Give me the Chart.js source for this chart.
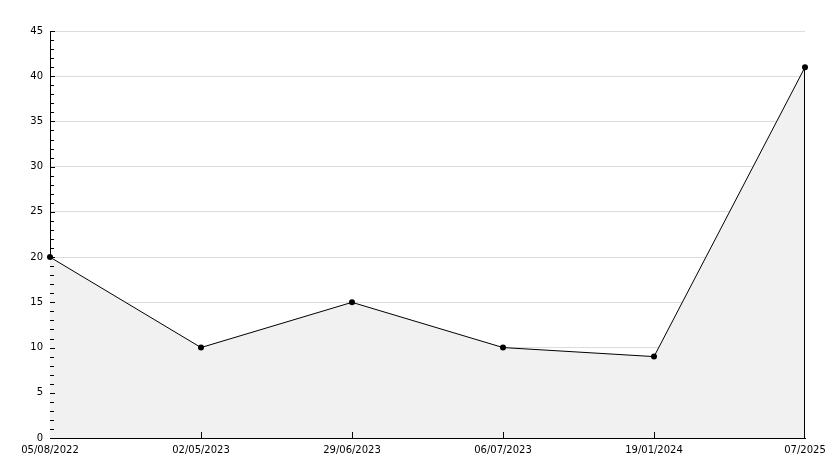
<!DOCTYPE html>
<html>
<head>
<meta charset="utf-8">
<script src="https://cdn.jsdelivr.net/npm/chart.js@4"></script>
<style>
  html, body { margin: 0; padding: 0; background: #fff; }
  #wrap { width: 834px; height: 468px; }
</style>
</head>
<body>
<div id="wrap"><canvas id="lineChart"></canvas></div>
<script>
// data
const dates = ['05/08/2022', '02/05/2023', '29/06/2023', '06/07/2023', '19/01/2024', '07/2025'];
const counts = [20, 10, 15, 10, 9, 41];
const yTicks = [0, 5, 10, 15, 20, 25, 30, 35, 40, 45];

// small inward tick marks + closing edge of the filled area
const tickMarks = {
  id: 'tickMarks',
  afterDatasetsDraw(chart) {
    const ctx = chart.ctx;
    const x = chart.scales.x, y = chart.scales.y;
    const area = chart.chartArea;
    ctx.save();
    ctx.strokeStyle = '#000';
    ctx.lineWidth = 1;
    ctx.beginPath();
    for (let v = 0; v <= 45; v++) {
      const py = Math.round(y.getPixelForValue(v)) + 0.5;
      const len = v % 5 === 0 ? 5 : 4;
      ctx.moveTo(area.left, py);
      ctx.lineTo(area.left + len, py);
    }
    for (let i = 1; i < dates.length - 1; i++) {
      const px = Math.round(x.getPixelForValue(i)) + 0.5;
      ctx.moveTo(px, area.bottom);
      ctx.lineTo(px, area.bottom - 6);
    }
    // right edge of the area
    const last = dates.length - 1;
    const lx = Math.round(x.getPixelForValue(last)) - 0.5;
    ctx.moveTo(lx, y.getPixelForValue(counts[last]));
    ctx.lineTo(lx, area.bottom);
    ctx.stroke();
    ctx.restore();
  }
};

const ctx = document.getElementById('lineChart');
new Chart(ctx, {
  type: 'line',
  data: {
    labels: dates,
    datasets: [{
      data: counts,
      borderColor: '#000',
      borderWidth: 1,
      backgroundColor: '#f1f1f1',
      fill: 'origin',
      tension: 0,
      pointRadius: 3,
      pointStyle: 'circle',
      pointBackgroundColor: '#000',
      pointBorderColor: '#000',
      pointBorderWidth: 0
    }]
  },
  options: {
    responsive: true,
    maintainAspectRatio: false,
    animation: false,
    plugins: {
      legend: { display: false },
      tooltip: { enabled: false }
    },
    layout: {
      padding: { top: 31, right: 29, bottom: 0, left: 0 }
    },
    scales: {
      x: {
        offset: false,
        grid: { display: false, drawTicks: false },
        border: { color: '#000', width: 1 },
        ticks: {
          color: '#000',
          padding: 6,
          maxRotation: 0,
          autoSkip: false,
          font: { family: 'DejaVu Sans', size: 10 }
        },
        afterFit(scale) { scale.height = 30; }
      },
      y: {
        min: 0,
        max: 45,
        afterBuildTicks(scale) { scale.ticks = yTicks.map(v => ({ value: v })); },
        grid: { color: '#dcdcdc', drawTicks: false },
        border: { color: '#000', width: 1 },
        ticks: {
          color: '#000',
          padding: 7,
          font: { family: 'DejaVu Sans', size: 10 }
        },
        afterFit(scale) { scale.width = 50; }
      }
    }
  },
  plugins: [tickMarks]
});
</script>
</body>
</html>
